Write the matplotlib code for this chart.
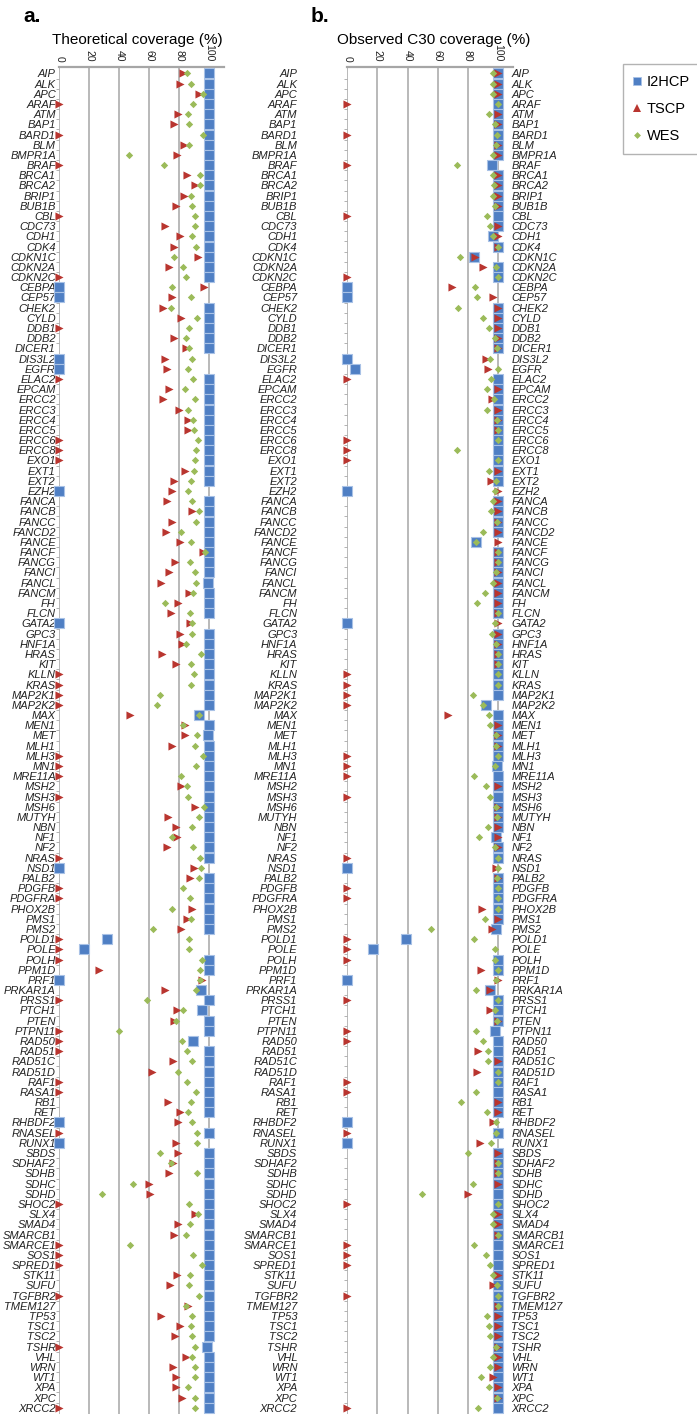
import matplotlib.pyplot as plt
import numpy as np
from matplotlib.lines import Line2D

plt.rcParams['font.family'] = ['Liberation Sans', 'DejaVu Sans']

## gene list (top to bottom)
genes = ["AIP", "ALK", "APC", "ARAF", "ATM", "BAP1", "BARD1", "BLM", "BMPR1A", "BRAF",
         "BRCA1", "BRCA2", "BRIP1", "BUB1B", "CBL", "CDC73", "CDH1", "CDK4", "CDKN1C", "CDKN2A",
         "CDKN2C", "CEBPA", "CEP57", "CHEK2", "CYLD", "DDB1",
         "DDB2", "DICER1", "DIS3L2", "EGFR", "ELAC2", "EPCAM", "ERCC2", "ERCC3", "ERCC4", "ERCC5",
         "ERCC6", "ERCC8", "EXO1", "EXT1", "EXT2", "EZH2", "FANCA", "FANCB", "FANCC", "FANCD2",
         "FANCE", "FANCF", "FANCG", "FANCI", "FANCL", "FANCM", "FH",
         "FLCN", "GATA2", "GPC3", "HNF1A", "HRAS", "KIT", "KLLN", "KRAS", "MAP2K1", "MAP2K2",
         "MAX", "MEN1", "MET", "MLH1", "MLH3", "MN1", "MRE11A", "MSH2", "MSH3", "MSH6",
         "MUTYH", "NBN", "NF1", "NF2", "NRAS", "NSD1",
         "PALB2", "PDGFB", "PDGFRA", "PHOX2B", "PMS1", "PMS2", "POLD1", "POLE", "POLH", "PPM1D",
         "PRF1", "PRKAR1A", "PRSS1", "PTCH1", "PTEN", "PTPN11", "RAD50", "RAD51", "RAD51C", "RAD51D",
         "RAF1", "RASA1", "RB1", "RET", "RHBDF2", "RNASEL", "RUNX1",
         "SBDS", "SDHAF2", "SDHB", "SDHC", "SDHD", "SHOC2", "SLX4", "SMAD4", "SMARCB1", "SMARCE1",
         "SOS1", "SPRED1", "STK11", "SUFU", "TGFBR2", "TMEM127", "TP53", "TSC1", "TSC2", "TSHR",
         "VHL", "WRN", "WT1", "XPA", "XPC", "XRCC2"]

## a. theoretical coverage (%)
a_i2hcp = [100, 99.5, 100, 100, 100, 99.5, 100, 100, 100, 99.5, 99.5, 100, 99.5, 100, 100, 100, 100, 99.5, 100, 99.5,
           100, 0, 0, 99.5, 100, 99.5,
           100, 100, 0, 0, 99.5, 100, 99.5, 99.5, 100, 100, 99.5, 99.5, 100, 99.5, 100, 0, 99.5, 100, 99.5, 100,
           100, 100, 99.5, 100, 99, 100, 100,
           100, 0, 100, 100, 99.5, 100, 100, 99.5, 100, 99.5, 93.3, 99.5, 99, 100, 100, 100, 99.5, 100, 100, 100,
           99.5, 99.5, 100, 100, 99.5, 0,
           100, 99.5, 100, 100, 100, 99.5, 32, 16.2, 100, 100, 0, 94.7, 100, 94.9, 100, 100, 88.9, 100, 100, 99.5,
           99.5, 100, 100, 100, 0, 100, 0,
           99.5, 100, 99.5, 100, 100, 100, 100, 100, 100, 99.5, 99.5, 100, 100, 100, 100, 100, 99.5, 99.5, 100, 98.2,
           100, 100, 99.5, 99.5, 99.5, 100]
a_tscp = [82.4, 80.7, 93, 0, 79, 76.4, 0, 83, 78.4, 0, 85, 90.4, 83, 77.6, 0, 70.2, 80.7, 76.7, 92.2, 73,
          0, 96.2, 75.3, 69.3, 81, 0,
          76.4, 84.2, 70.7, 71.6, 0, 72.9, 69.3, 79.8, 85.8, 85.6, 0, 0, 0, 83.6, 76.4, 74.9, 71.6, 88.7, 75.1, 71.3,
          80.2, 95.6, 77.1, 73.1, 67.6, 86.4, 79.3,
          74.4, 86.9, 80.2, 81.8, 68.4, 77.8, 0, 0, 0, 0, 47.3, 83.8, 84, 75.1, 0, 0, 0, 81.1, 0, 90.7,
          72.7, 78, 78.4, 71.6, 0, 90,
          87.1, 0, 0, 88.7, 85.1, 81.1, 0, 0, 0, 26.7, 94.9, 70.7, 0, 78.2, 76.4, 0, 0, 0, 75.8, 61.8,
          0, 0, 72.4, 80.2, 79.3, 0, 78,
          79.1, 75.8, 72.9, 60, 60.4, 0, 90.2, 79.3, 76.4, 0, 0, 0, 78.4, 73.8, 0, 85.6, 68, 80.7, 77.1, 0,
          84.2, 76, 77.6, 77.6, 81.6, 0]
a_wes = [85, 87.8, 96, 89, 86, 86.7, 95.8, 86.4, 46.2, 69.8, 93.8, 94, 87.8, 88.4, 90.4, 90.7, 88.7, 91, 76.7, 82.7,
         84.4, 75, 87.6, 74.7, 91.6, 86.4,
         84.2, 86.7, 88.4, 86, 89.3, 84, 90.4, 85.6, 89, 90, 92.7, 91.3, 90.4, 90, 87.8, 85.6, 88.2, 92.9, 91.3, 81.3,
         87.8, 96.9, 86.9, 90.7, 90.9, 89, 70.7,
         87.3, 88.7, 88.4, 84.2, 94.7, 87.8, 90, 87.6, 66.9, 64.9, 92.9, 82.2, 91.8, 90.4, 95.8, 90.9, 81.1, 84.9, 86, 96.4,
         93.3, 88.7, 75.1, 89.1, 94, 94.2,
         93.1, 82.7, 87.1, 75.3, 87.6, 62.4, 86.7, 86.4, 95.1, 94, 93.6, 91.3, 58.2, 82.7, 77.8, 39.6, 81.6, 85.1, 88.7, 79.3,
         85.1, 90.9, 87.6, 86, 88.2, 91.6, 91.8,
         67.1, 74.7, 91.8, 49.3, 28.2, 86.2, 92.7, 87.3, 84.7, 47.1, 88.9, 95.1, 87.3, 86.2, 93.3, 84.7, 88.2, 88, 88.7, 90.4,
         88.7, 90.4, 90.2, 85.6, 90.7, 90.2]

## b. observed C30 coverage (%)
b_i2hcp = [100, 100, 100, 100, 100, 100, 100, 100, 100, 95.8, 100, 100, 100, 100, 100, 100, 96.5, 100, 84, 100,
           100, 0, 0, 100, 100, 100,
           100, 100, 0, 4.9, 100, 100, 100, 100, 100, 100, 100, 100, 100, 100, 100, 0, 100, 100, 100, 100,
           85.6, 100, 100, 100, 100, 100, 100,
           100, 0, 100, 100, 100, 100, 100, 100, 100, 92.2, 100, 100, 100, 100, 100, 99.3, 100, 100, 100, 100,
           100, 100, 98.9, 100, 100, 0,
           100, 100, 100, 100, 100, 98.9, 39, 16.9, 100, 100, 0, 94.9, 100, 100, 100, 97.8, 100, 100, 100, 100,
           100, 100, 100, 100, 0, 100, 0,
           100, 100, 100, 100, 100, 100, 100, 100, 100, 100, 100, 100, 100, 100, 100, 100, 100, 100, 100, 100,
           100, 100, 100, 100, 100, 100]
b_tscp = [100, 100, 100, 0, 100, 100, 0, 100, 100, 0, 100, 100, 100, 100, 0, 100, 100, 100, 84.5, 90.2,
          0, 69.4, 96.5, 100, 100, 100,
          100, 100, 92, 93.3, 0, 100, 95.8, 100, 100, 100, 0, 0, 0, 100, 95.3, 100, 100, 100, 100, 100,
          100, 100, 100, 100, 100, 100, 100,
          100, 100, 100, 100, 100, 100, 0, 0, 0, 0, 67, 100, 100, 100, 0, 0, 0, 100, 0, 100,
          100, 100, 100, 100, 0, 99.1,
          100, 0, 0, 89.6, 100, 96.2, 0, 0, 0, 88.5, 100, 94.7, 0, 94.9, 100, 0, 0, 86.5, 100, 86.3,
          0, 0, 100, 100, 96.5, 0, 88,
          100, 100, 100, 100, 80, 0, 100, 100, 100, 0, 0, 0, 100, 96.7, 0, 100, 100, 100, 100, 100,
          100, 100, 97.1, 100, 100, 0]
b_wes = [96.7, 96.5, 96.9, 100, 94.2, 97.8, 99.6, 98.7, 96.7, 73, 96.5, 97.3, 96.9, 98.4, 93.1, 94.7, 96.7, 100, 74.9, 98.7,
         100, 84.9, 86.3, 73.4, 90, 94.2,
         98, 99.6, 94.9, 100, 95.3, 92.9, 97.3, 92.5, 99.6, 100, 99.8, 73, 100, 94, 98.9, 98, 96.5, 95.3, 99.6, 90.2,
         85.6, 100, 100, 98.7, 96.5, 91.6, 86.3,
         100, 97.8, 96.2, 99.1, 100, 100, 100, 100, 83.6, 90, 94.2, 95.1, 98.9, 99.1, 100, 98.4, 84, 92, 94.9, 99.1,
         99.6, 93.6, 87.4, 97.8, 100, 100,
         99.6, 100, 100, 100, 91.6, 55.7, 84, 97.8, 97.8, 100, 98.7, 85.6, 100, 98, 99.3, 85.6, 90.2, 93.3, 93.6, 100,
         100, 85.6, 75.2, 92.7, 99.1, 98.9, 95.6,
         80, 100, 100, 83.4, 49.4, 100, 96.5, 96.9, 100, 84, 92, 94.5, 96.9, 99.3, 100, 100, 92.9, 94.2, 94.7, 98.9,
         96.5, 94.7, 88.9, 93.8, 99.6, 87.1]

blue = "#4F7FC4"
red = "#B9352F"
green = "#9BBB59"
grey = "#A6A6A6"

W, H = 697, 1415
fig = plt.figure(figsize=(W / 100, H / 100), dpi=100)


def px_box(x0, y0, x1, y1):
    return [x0 / W, 1 - y1 / H, (x1 - x0) / W, (y1 - y0) / H]


ax_a = fig.add_axes(px_box(59.3, 67.3, 224.3, 1413.8))
ax_b = fig.add_axes(px_box(347.3, 67.3, 512.9, 1413.8))

y = np.arange(len(genes))


def draw_panel(ax, sq, tri, dia, left_pad):
    ax.scatter(sq, y, marker="s", s=52, color=blue, edgecolors="#A9C2E6", linewidths=0.8,
               zorder=3, clip_on=False)
    ax.scatter(tri, y, marker=">", s=34, color=red, linewidths=0, zorder=4, clip_on=False)
    ax.scatter(dia, y, marker="D", s=14, color=green, linewidths=0, zorder=5, clip_on=False)
    ax.set_xlim(0, 110)
    ax.set_ylim(len(genes) - 0.4, -0.6)
    ax.xaxis.tick_top()
    ax.set_xticks([0, 20, 40, 60, 80, 100])
    ax.tick_params(axis="x", length=0, pad=4, labelsize=7.5, labelrotation=-90, colors="#222222")
    ax.grid(axis="x", color=grey, lw=1.1, zorder=1)
    ax.set_axisbelow(True)
    ax.set_yticks(y)
    ax.set_yticklabels(genes, fontstyle="italic", fontsize=8)
    ax.set_yticks(np.arange(0.5, len(genes) - 1, 1), minor=True)
    ax.tick_params(axis="y", which="major", length=0, pad=left_pad, colors="#222222")
    ax.tick_params(axis="y", which="minor", length=2.2, width=0.6, color=grey)
    for s in ["left", "right", "bottom"]:
        ax.spines[s].set_visible(False)
    ax.spines["top"].set_color(grey)
    ax.spines["top"].set_linewidth(1.6)


draw_panel(ax_a, a_i2hcp, a_tscp, a_wes, 2.5)
draw_panel(ax_b, b_i2hcp, b_tscp, b_wes, 36)

## right-hand gene labels on panel b
ax_r = ax_b.twinx()
ax_r.set_ylim(ax_b.get_ylim())
ax_r.set_yticks(y)
ax_r.set_yticklabels(genes, fontstyle="italic", fontsize=8)
ax_r.tick_params(axis="y", length=0, pad=-1.2, colors="#222222")
for s in ax_r.spines.values():
    s.set_visible(False)

fig.text(23 / W, 1 - 16 / H, "a.", fontsize=15, fontweight="bold", va="center")
fig.text(311 / W, 1 - 16 / H, "b.", fontsize=15, fontweight="bold", va="center")
fig.text(137 / W, 1 - 40 / H, "Theoretical coverage (%)", fontsize=11, ha="center", va="center")
fig.text(434 / W, 1 - 40 / H, "Observed C30 coverage (%)", fontsize=11, ha="center", va="center")

handles = [
    Line2D([], [], ls="none", marker="s", ms=6, color=blue, mec="#A9C2E6", mew=0.6),
    Line2D([], [], ls="none", marker="^", ms=5.5, color=red, mew=0),
    Line2D([], [], ls="none", marker="D", ms=3.5, color=green, mew=0),
]
leg = fig.legend(handles, ["I2HCP", "TSCP", "WES"], loc="upper left",
                 bbox_to_anchor=(622.7 / W, 1 - 64 / H), borderaxespad=0, fontsize=10.5,
                 frameon=True, fancybox=False, edgecolor="#A0A0A0", borderpad=0.75,
                 labelspacing=0.9, handlelength=0.5, handletextpad=0.4)
leg.get_frame().set_linewidth(1.0)

fig.savefig("out.png", dpi=100)
